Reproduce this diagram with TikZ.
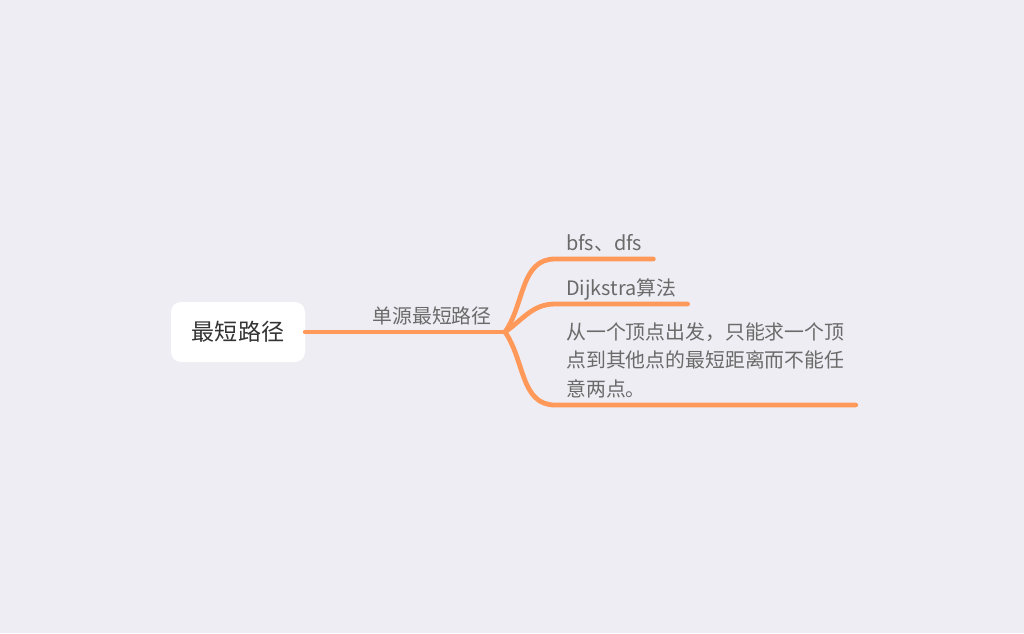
\documentclass[tikz,border=0pt]{standalone}
\usepackage{fontspec}
\newfontfamily\cjk{Noto Sans CJK SC}
\usetikzlibrary{positioning}
\definecolor{bgcol}{HTML}{EEEDF3}
\definecolor{linecol}{HTML}{FF995A}
\definecolor{txtcol}{HTML}{6A6A6A}
\definecolor{roottxt}{HTML}{333333}

\begin{document}
\begin{tikzpicture}[x=0.75pt, y=-0.75pt,
  rootbox/.style={fill=white, rounded corners=7.5pt, minimum width=100.5pt, minimum height=45pt, font=\cjk\fontsize{17.3}{20}\selectfont, text=roottxt},
  topic/.style={font=\cjk\fontsize{14.9}{21.4}\selectfont, text=txtcol, inner xsep=8.25pt, inner ysep=6.5pt, text depth=0pt, align=left},
  branch/.style={draw=linecol, line width=3.6pt, line cap=round}]
\useasboundingbox[fill=bgcol] (0,0) rectangle (1024,633);

\node[rootbox] (root) at (238,332) {最短路径};
\coordinate (fork) at (505,332);
\node[topic, anchor=south] (src) at (432,332) {单源最短路径};

\node[topic, anchor=south west] (bfs) at (555,259) {bfs、dfs};
\node[topic, anchor=south west] (dij) at (555,304) {Dijkstra算法};
\node[topic, anchor=south west] (note) at (555,405) {从一个顶点出发，只能求一个顶\\点到其他点的最短距离而不能任\\意两点。};

\draw[branch] (root.east) -- (fork);
\draw[branch] (fork) to[out=55, in=180] (bfs.south west) -- (bfs.south east);
\draw[branch] (fork) to[out=35, in=180] (dij.south west) -- (dij.south east);
\draw[branch] (fork) to[out=-55, in=180] (note.south west) -- (note.south east);
\end{tikzpicture}
\end{document}
